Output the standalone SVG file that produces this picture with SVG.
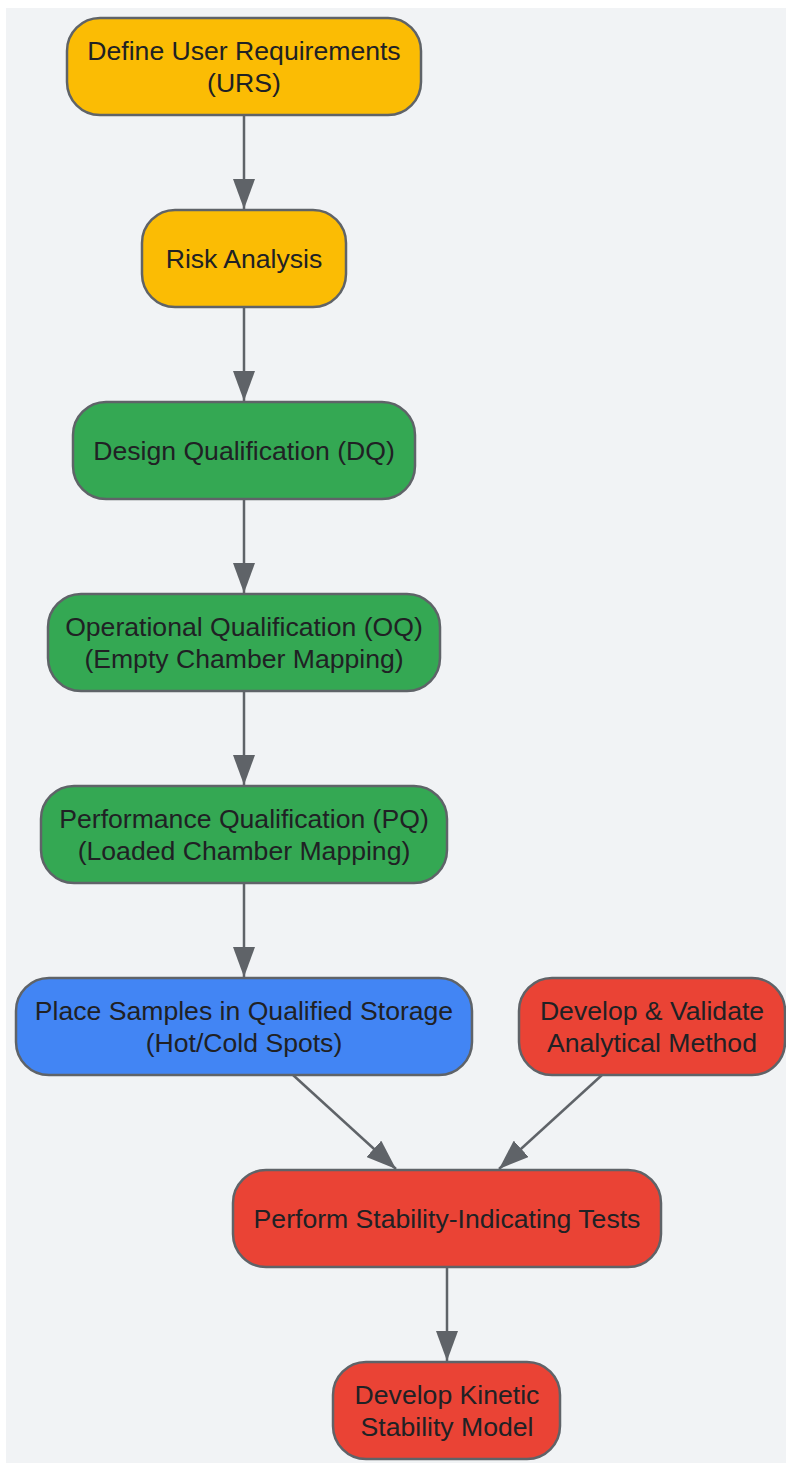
<svg xmlns="http://www.w3.org/2000/svg" width="786" height="1463" viewBox="0 0 786 1463">
<defs>
<marker id="arr" viewBox="0 0 30 22" refX="30" refY="11" markerWidth="30" markerHeight="22" markerUnits="userSpaceOnUse" orient="auto">
<path d="M0,0 L30,11 L0,22 Z" fill="#5f6368"/>
</marker>
<style>
.n rect{stroke:#5f6368;stroke-width:2.5}
.y rect{fill:#fbbc04}
.g rect{fill:#34a853}
.b rect{fill:#4285f4}
.r rect{fill:#ea4335}
.n text{font-family:"Liberation Sans",Arial,sans-serif;font-size:26.6px;fill:#202124;text-anchor:middle}
.e{stroke:#5f6368;stroke-width:2.5;fill:none;marker-end:url(#arr)}
</style>
</defs>
<rect x="6" y="8" width="780" height="1455" fill="#f1f3f5"/>
<g id="connectors">
<path class="e" d="M244,115 L244,209"/>
<path class="e" d="M244,307 L244,401"/>
<path class="e" d="M244,499 L244,593"/>
<path class="e" d="M244,691 L244,785"/>
<path class="e" d="M244,883 L244,977"/>
<path class="e" d="M293,1075 L396,1169"/>
<path class="e" d="M602,1075 L499,1169"/>
<path class="e" d="M447,1267 L447,1361"/>
</g>
<g id="n1" class="n y"><rect x="67" y="18" width="354" height="97" rx="33"/><text x="244" y="60">Define User Requirements</text><text x="244" y="92">(URS)</text></g>
<g id="n2" class="n y"><rect x="142" y="210" width="204" height="97" rx="33"/><text x="244" y="268">Risk Analysis</text></g>
<g id="n3" class="n g"><rect x="73" y="402" width="342" height="97" rx="33"/><text x="244" y="460">Design Qualification (DQ)</text></g>
<g id="n4" class="n g"><rect x="48" y="594" width="392" height="97" rx="33"/><text x="244" y="636">Operational Qualification (OQ)</text><text x="244" y="668">(Empty Chamber Mapping)</text></g>
<g id="n5" class="n g"><rect x="41" y="786" width="406" height="97" rx="33"/><text x="244" y="828">Performance Qualification (PQ)</text><text x="244" y="860">(Loaded Chamber Mapping)</text></g>
<g id="n6" class="n b"><rect x="16" y="978" width="456" height="97" rx="33"/><text x="244" y="1020">Place Samples in Qualified Storage</text><text x="244" y="1052">(Hot/Cold Spots)</text></g>
<g id="n7" class="n r"><rect x="519" y="978" width="266" height="97" rx="33"/><text x="652" y="1020">Develop &amp; Validate</text><text x="652" y="1052">Analytical Method</text></g>
<g id="n8" class="n r"><rect x="233" y="1170" width="428" height="97" rx="33"/><text x="447" y="1228">Perform Stability-Indicating Tests</text></g>
<g id="n9" class="n r"><rect x="333" y="1362" width="227" height="97" rx="33"/><text x="447" y="1404">Develop Kinetic</text><text x="447" y="1436">Stability Model</text></g>
</svg>
